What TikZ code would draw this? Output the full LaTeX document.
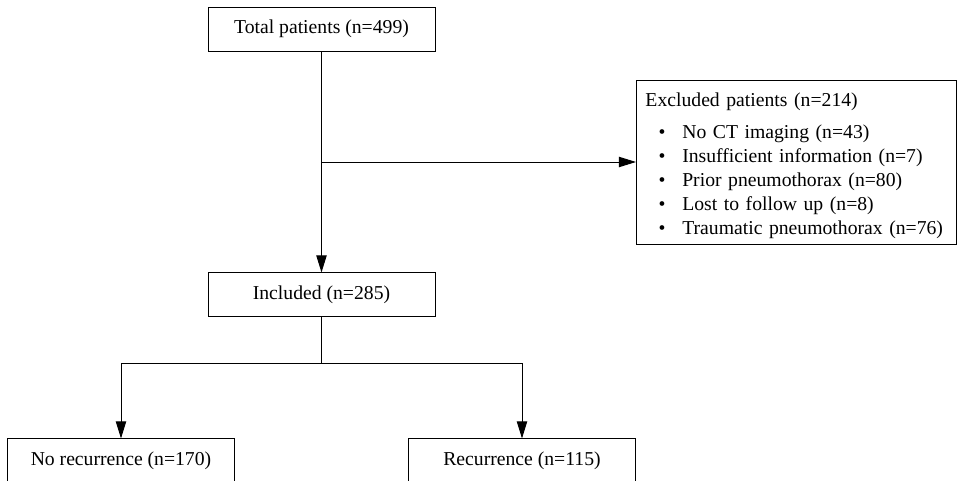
\documentclass[tikz,border=0pt]{standalone}
\usepackage{fontspec}
\setmainfont{Liberation Serif}
\usepackage{enumitem}
\usetikzlibrary{arrows.meta, positioning}

\begin{document}
\begin{tikzpicture}[
    box/.style={rectangle, draw, line width=0.7pt, minimum width=5.675cm, minimum height=1.1cm, align=center, font=\fontsize{14}{17}\selectfont},
    listbox/.style={rectangle, draw, line width=0.7pt, text width=7.55cm, minimum height=4.1cm, inner xsep=0.225cm, align=left, font=\fontsize{14}{17}\selectfont},
    arrow/.style={-{Triangle[length=4.3mm, width=2.6mm]}, line width=0.7pt},
    line/.style={line width=0.7pt}
]

% fix the page size
\useasboundingbox (-8.0375,0.725) rectangle (15.9375,-11.275);

% Nodes: patient flow
\node[box] (total) at (0,0) {Total patients (n=499)};
\node[box, below=5.525cm of total] (included) {Included (n=285)};
\node[box, below=3.025cm of included, xshift=-5.0125cm] (norec) {No recurrence (n=170)};
\node[box, below=3.025cm of included, xshift=5.0125cm] (rec) {Recurrence (n=115)};

% Total -> Included, with a split point for the exclusions
\draw[arrow] (total) -- coordinate[midway] (split) (included);

% Excluded patients with reasons
\node[listbox, right=7.8625cm of split] (excluded) {\rule{0pt}{14.5pt}Excluded patients (n=214)
\begin{itemize}[label=\textbullet, leftmargin=0.92cm, labelsep=0.42cm, topsep=6pt, itemsep=0pt, parsep=0pt, partopsep=0pt]
  \item No CT imaging (n=43)
  \item Insufficient information (n=7)
  \item Prior pneumothorax (n=80)
  \item Lost to follow up (n=8)
  \item Traumatic pneumothorax (n=76)
\end{itemize}};
\draw[arrow] (split) -- (excluded);

% Included -> outcome groups
\coordinate[below=1.15cm of included] (fork);
\draw[line] (included) -- (fork);
\draw[arrow] (fork) -| (norec);
\draw[arrow] (fork) -| (rec);

\end{tikzpicture}
\end{document}
